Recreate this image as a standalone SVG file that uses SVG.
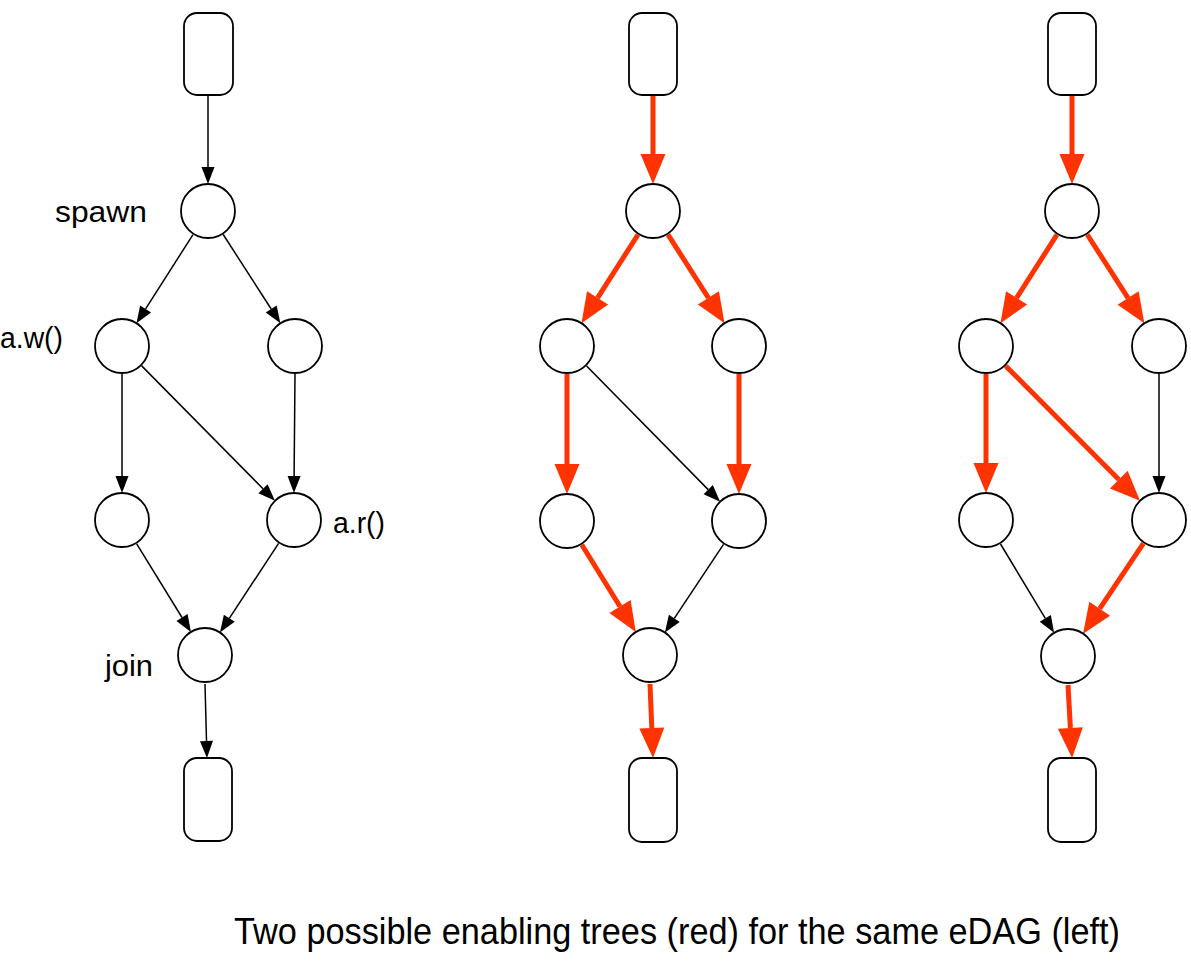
<svg xmlns="http://www.w3.org/2000/svg" width="1191" height="968" viewBox="0 0 1191 968">
<style>
.n{fill:#fff;stroke:#000;stroke-width:1.8}
.b{fill:none;stroke:#000;stroke-width:1.5}
.r{fill:none;stroke:#ff3300;stroke-width:5}
.b{marker-end:url(#ab)}
.r{marker-end:url(#ar)}
text{font-family:"Liberation Sans",Arial,sans-serif;fill:#000}
.lbl{font-size:30px}
.cap{font-size:36px}
</style>
<defs>
<marker id="ab" markerUnits="userSpaceOnUse" markerWidth="18" markerHeight="13" refX="0" refY="6.5" orient="auto" overflow="visible"><path d="M0,0 L17,6.5 L0,13 z" fill="#000"/></marker>
<marker id="ar" markerUnits="userSpaceOnUse" markerWidth="31" markerHeight="25" refX="0" refY="12.5" orient="auto" overflow="visible"><path d="M0,0 L30,12.5 L0,25 z" fill="#ff3300"/></marker>
</defs>
<g id="connectors">
<!-- left -->
<path class="b" d="M208,95 L208,167"/>
<path class="b" d="M193,234.6 L145.6,308.9"/>
<path class="b" d="M223.2,234.5 L271.2,309"/>
<path class="b" d="M122,374 L122,476"/>
<path class="b" d="M141.7,365.9 L263,488.7"/>
<path class="b" d="M295,374 L294.1,476"/>
<path class="b" d="M136.7,543.9 L182,617.5"/>
<path class="b" d="M278.6,543.4 L229.3,618.3"/>
<path class="b" d="M205,684 L206.5,741"/>
<!-- middle -->
<path class="r" d="M653,95 L653,154"/>
<path class="r" d="M638,234.6 L597.6,297.9"/>
<path class="r" d="M668,234.6 L708.4,297.9"/>
<path class="r" d="M567,374 L567,464"/>
<path class="b" d="M586.6,366 L708.2,489.6"/>
<path class="r" d="M739,374 L739,464"/>
<path class="r" d="M581.8,544.8 L620,606.5"/>
<path class="b" d="M723.5,544.3 L674.3,618.3"/>
<path class="r" d="M650,684 L651.8,728"/>
<!-- right -->
<path class="r" d="M1072,95 L1072,154"/>
<path class="r" d="M1057,234.6 L1016.6,297.9"/>
<path class="r" d="M1087.2,234.5 L1128.1,298.1"/>
<path class="r" d="M986,374 L986,463"/>
<path class="r" d="M1005.7,365.9 L1118.8,479.6"/>
<path class="b" d="M1159,374 L1159,476"/>
<path class="b" d="M1000.5,544 L1045.3,618.3"/>
<path class="r" d="M1143.4,543.3 L1099.7,608.7"/>
<path class="r" d="M1068,685 L1070.4,728"/>
</g>
<g id="left">
<g id="l-top"><rect class="n" x="184" y="13" width="49" height="82" rx="13"/></g>
<g id="l-spawn"><circle class="n" cx="208" cy="211" r="27"/><text class="lbl" x="55" y="222" textLength="92" lengthAdjust="spacingAndGlyphs">spawn</text></g>
<g id="l-aw"><circle class="n" cx="122" cy="346" r="27"/><text class="lbl" x="0" y="348" textLength="63" lengthAdjust="spacingAndGlyphs">a.w()</text></g>
<g id="l-r1"><circle class="n" cx="295" cy="346" r="27"/></g>
<g id="l-l2"><circle class="n" cx="122" cy="520" r="27"/></g>
<g id="l-ar"><circle class="n" cx="294" cy="520" r="27"/><text class="lbl" x="333" y="533" textLength="52" lengthAdjust="spacingAndGlyphs">a.r()</text></g>
<g id="l-join"><circle class="n" cx="205" cy="655" r="27"/><text class="lbl" x="105" y="676" textLength="48" lengthAdjust="spacingAndGlyphs">join</text></g>
<g id="l-bot"><rect class="n" x="184" y="758" width="48" height="83" rx="13"/></g>
</g>
<g id="middle">
<g id="m-top"><rect class="n" x="629" y="13" width="48" height="82" rx="13"/></g>
<g id="m-spawn"><circle class="n" cx="653" cy="211" r="27"/></g>
<g id="m-l1"><circle class="n" cx="567" cy="346" r="27"/></g>
<g id="m-r1"><circle class="n" cx="739" cy="346" r="27"/></g>
<g id="m-l2"><circle class="n" cx="567" cy="521" r="27"/></g>
<g id="m-r2"><circle class="n" cx="739" cy="521" r="27"/></g>
<g id="m-join"><circle class="n" cx="650" cy="655" r="27"/></g>
<g id="m-bot"><rect class="n" x="629" y="758" width="48" height="84" rx="13"/></g>
</g>
<g id="right">
<g id="r-top"><rect class="n" x="1048" y="13" width="48" height="82" rx="13"/></g>
<g id="r-spawn"><circle class="n" cx="1072" cy="211" r="27"/></g>
<g id="r-l1"><circle class="n" cx="986" cy="346" r="27"/></g>
<g id="r-r1"><circle class="n" cx="1159" cy="346" r="27"/></g>
<g id="r-l2"><circle class="n" cx="986" cy="520" r="27"/></g>
<g id="r-r2"><circle class="n" cx="1159" cy="520" r="27"/></g>
<g id="r-join"><circle class="n" cx="1068" cy="656" r="27"/></g>
<g id="r-bot"><rect class="n" x="1048" y="758" width="48" height="84" rx="13"/></g>
</g>
<g id="caption"><text class="cap" x="234" y="944" textLength="886" lengthAdjust="spacingAndGlyphs">Two possible enabling trees (red) for the same eDAG (left)</text></g>
</svg>
